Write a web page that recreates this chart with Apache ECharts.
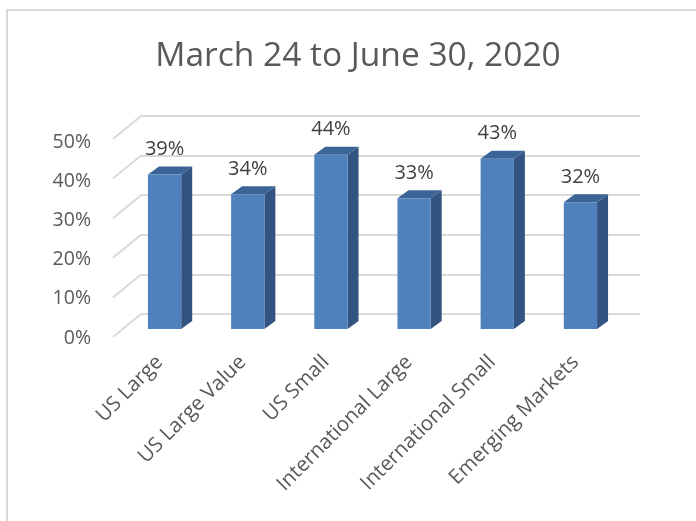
<!DOCTYPE html>
<html><head><meta charset="utf-8">
<script src="https://cdn.jsdelivr.net/npm/echarts@6/dist/echarts.min.js"></script>
<style>html,body{margin:0;padding:0;background:#fff}#c{width:696px;height:521px}</style>
</head><body><div id="c"></div>
<script>
var titleText = 'March 24 to June 30, 2020';
var categories = ['US Large', 'US Large Value', 'US Small', 'International Large', 'International Small', 'Emerging Markets'];
var values = [39, 34, 44, 33, 43, 32];
var yTicks = [0, 10, 20, 30, 40, 50];

var FONT = '"Open Sans", "Noto Sans", sans-serif';
var FRONT = [-18, 15];   // offset of bar front face from back wall
var DEPTH = [11, -8];    // bar depth vector
var WALL = [-28, 23];    // wall depth (side gridlines)

var chart = echarts.init(document.getElementById('c'), null, {renderer: 'canvas'});
chart.setOption({
  backgroundColor: '#fff',
  animation: false,
  title: {
    text: titleText, left: 353, top: 34, textAlign: 'center',
    textStyle: {fontFamily: FONT, fontSize: 33.5, fontWeight: 'normal', color: '#595959'}
  },
  graphic: [{
    type: 'rect', shape: {x: 7, y: 10, width: 800, height: 700},
    style: {fill: 'none', stroke: '#d9d9d9', lineWidth: 2}, silent: true, z: -1
  }],
  grid: [
    {left: 141, right: 56, top: 116, height: 198},
    {left: 118, right: 79, top: 142, height: 196}
  ],
  xAxis: [
    {type: 'category', gridIndex: 0, data: categories, show: false},
    {type: 'category', gridIndex: 1, data: categories,
     axisLine: {show: false}, axisTick: {show: false},
     axisLabel: {rotate: 45, margin: 21, interval: 0, fontFamily: FONT, fontSize: 20.5, color: '#595959'}}
  ],
  yAxis: [
    {type: 'value', gridIndex: 0, min: 0, max: 50, interval: 10,
     axisLine: {show: false}, axisTick: {show: false}, axisLabel: {show: false},
     splitLine: {lineStyle: {color: '#d9d9d9', width: 2}}},
    {type: 'value', gridIndex: 1, min: 0, max: 50, interval: 10,
     axisLine: {show: false}, axisTick: {show: false}, splitLine: {show: false},
     axisLabel: {margin: 27, formatter: '{value}%', fontFamily: FONT, fontSize: 19.5, color: '#595959'}}
  ],
  series: [
    {
      type: 'custom', xAxisIndex: 0, yAxisIndex: 0, z: 1,
      data: yTicks.map(function (t) { return [0, t]; }),
      renderItem: function (params, api) {
        var p = api.coord([0, api.value(1)]);
        var x = params.coordSys.x;
        return {type: 'line', shape: {x1: x, y1: p[1], x2: x + WALL[0], y2: p[1] + WALL[1]},
                style: {stroke: '#d9d9d9', lineWidth: 2}};
      }
    },
    {
      type: 'custom', xAxisIndex: 0, yAxisIndex: 0, z: 2,
      data: values.map(function (v, i) { return [i, v]; }),
      renderItem: function (params, api) {
        var i = api.value(0), v = api.value(1);
        var base = api.coord([i, 0]);
        var top = api.coord([i, v]);
        var w = api.size([1, 0])[0] * 0.4;
        var cx = base[0] + FRONT[0];
        var x0 = cx - w / 2, x1 = cx + w / 2;
        var yb = base[1] + FRONT[1], yt = top[1] + FRONT[1];
        var dx = DEPTH[0], dy = DEPTH[1];
        return {type: 'group', children: [
          {type: 'polygon', shape: {points: [[x1, yt], [x1 + dx, yt + dy], [x1 + dx, yb + dy], [x1, yb]]},
           style: {fill: '#335380'}},
          {type: 'polygon', shape: {points: [[x0, yt], [x0 + dx, yt + dy], [x1 + dx, yt + dy], [x1, yt]]},
           style: {fill: '#3c6597'}},
          {type: 'rect', shape: {x: x0, y: yt, width: w, height: yb - yt},
           style: {fill: '#4f81bd'}},
          {type: 'text', style: {x: cx, y: yt - 25, text: v + '%', align: 'center', verticalAlign: 'middle',
            font: '20px ' + FONT, fill: '#404040'}}
        ]};
      }
    }
  ]
});
</script></body></html>
